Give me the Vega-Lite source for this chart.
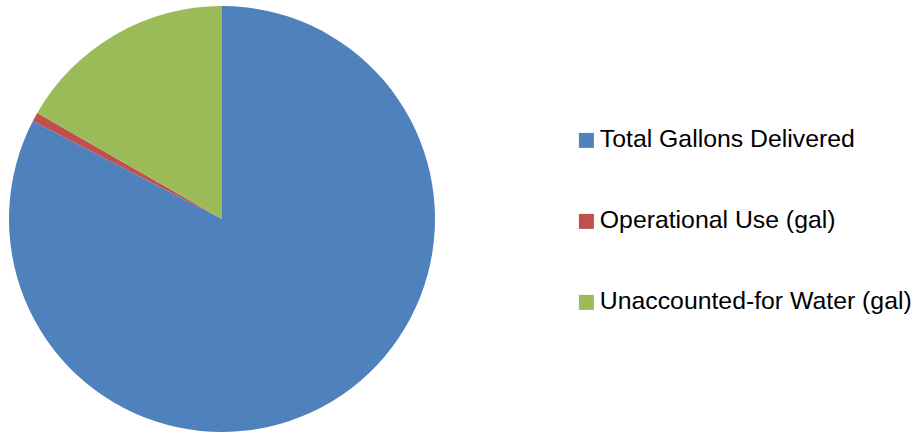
{
  "$schema": "https://vega.github.io/schema/vega-lite/v6.json",
  "width": 444,
  "height": 430,
  "autosize": "none",
  "padding": {"left": 0, "top": 4, "right": 473, "bottom": 0},
  "background": "white",
  "data": {
    "values": [
      {"category": "Total Gallons Delivered", "gallons": 82.6, "idx": 1},
      {"category": "Operational Use (gal)", "gallons": 0.7, "idx": 2},
      {"category": "Unaccounted-for Water (gal)", "gallons": 16.7, "idx": 3}
    ]
  },
  "mark": {"type": "arc", "radius": 213},
  "encoding": {
    "theta": {"field": "gallons", "type": "quantitative", "stack": true},
    "order": {"field": "idx", "type": "quantitative"},
    "color": {
      "field": "category",
      "type": "nominal",
      "sort": ["Total Gallons Delivered", "Operational Use (gal)", "Unaccounted-for Water (gal)"],
      "scale": {
        "domain": ["Total Gallons Delivered", "Operational Use (gal)", "Unaccounted-for Water (gal)"],
        "range": ["#4F81BD", "#C0504D", "#9BBB59"]
      },
      "legend": {
        "title": null,
        "orient": "none",
        "legendX": 574,
        "legendY": 124,
        "symbolType": "square",
        "symbolSize": 225,
        "symbolStrokeWidth": 0,
        "labelFont": "Liberation Sans",
        "labelFontSize": 24.8,
        "labelColor": "#000000",
        "labelOffset": 1,
        "labelLimit": 400,
        "rowPadding": 55,
        "padding": 0
      }
    }
  },
  "config": {"view": {"stroke": null}}
}
